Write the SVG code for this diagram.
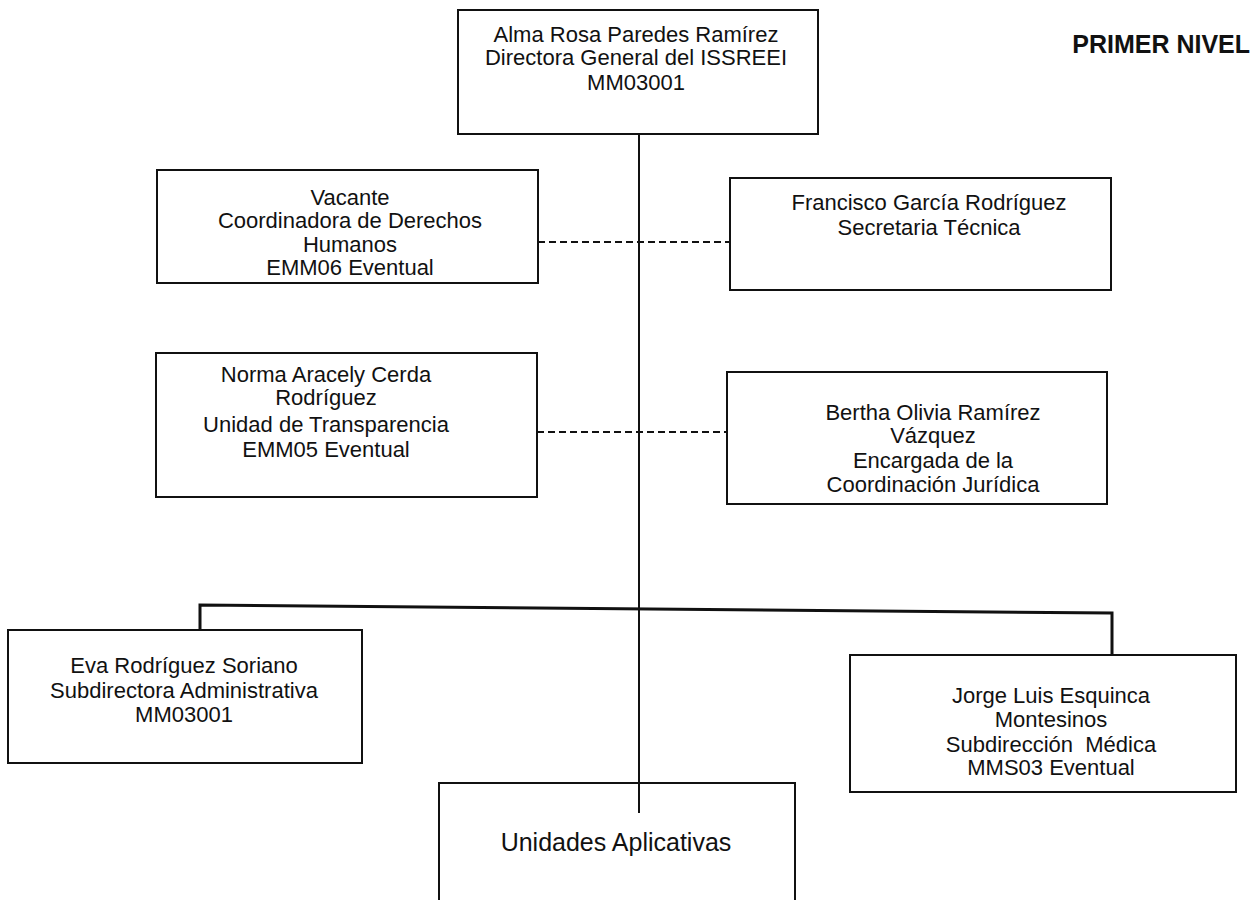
<svg xmlns="http://www.w3.org/2000/svg" width="1255" height="900" viewBox="0 0 1255 900">
<style>
  .box { fill: #ffffff; stroke: #111; stroke-width: 2; }
  .t { font-family: "Liberation Sans", Arial, sans-serif; font-size: 22px; fill: #111; text-anchor: middle; }
  .line { stroke: #111; stroke-width: 2; fill: none; }
  .dash { stroke: #111; stroke-width: 2; stroke-dasharray: 7 4; fill: none; }
</style>
<rect width="1255" height="900" fill="#ffffff"/>
<g id="director">
  <rect class="box" x="458" y="10" width="360" height="124"/>
  <text class="t" x="636" y="42">Alma Rosa Paredes Ramírez</text>
  <text class="t" x="636" y="65">Directora General del ISSREEI</text>
  <text class="t" x="636" y="90">MM03001</text>
</g>
<g id="derechos">
  <rect class="box" x="157" y="170" width="381" height="113"/>
  <text class="t" x="350" y="205">Vacante</text>
  <text class="t" x="350" y="228">Coordinadora de Derechos</text>
  <text class="t" x="350" y="252">Humanos</text>
  <text class="t" x="350" y="275">EMM06 Eventual</text>
</g>
<g id="secretaria">
  <rect class="box" x="730" y="178" width="381" height="112"/>
  <text class="t" x="929" y="210">Francisco García Rodríguez</text>
  <text class="t" x="929" y="235">Secretaria Técnica</text>
</g>
<g id="transparencia">
  <rect class="box" x="156" y="353" width="381" height="144"/>
  <text class="t" x="326" y="382">Norma Aracely Cerda</text>
  <text class="t" x="326" y="405">Rodríguez</text>
  <text class="t" x="326" y="432">Unidad de Transparencia</text>
  <text class="t" x="326" y="457">EMM05 Eventual</text>
</g>
<g id="juridica">
  <rect class="box" x="727" y="372" width="380" height="132"/>
  <text class="t" x="933" y="420">Bertha Olivia Ramírez</text>
  <text class="t" x="933" y="443">Vázquez</text>
  <text class="t" x="933" y="468">Encargada de la</text>
  <text class="t" x="933" y="492">Coordinación Jurídica</text>
</g>
<g id="administrativa">
  <rect class="box" x="8" y="630" width="354" height="133"/>
  <text class="t" x="184" y="673">Eva Rodríguez Soriano</text>
  <text class="t" x="184" y="698">Subdirectora Administrativa</text>
  <text class="t" x="184" y="722">MM03001</text>
</g>
<g id="medica">
  <rect class="box" x="850" y="655" width="386" height="137"/>
  <text class="t" x="1051" y="703">Jorge Luis Esquinca</text>
  <text class="t" x="1051" y="727">Montesinos</text>
  <text class="t" x="1051" y="752" xml:space="preserve">Subdirección  Médica</text>
  <text class="t" x="1051" y="775">MMS03 Eventual</text>
</g>
<g id="unidades">
  <rect class="box" x="439" y="783" width="356" height="125"/>
  <text class="t" x="616" y="851" style="font-size:25px">Unidades Aplicativas</text>
</g>
<g id="nivel">
  <text x="1250" y="53" style="font-family:'Liberation Sans', Arial, sans-serif; font-size:25px; font-weight:bold; fill:#111; text-anchor:end">PRIMER NIVEL</text>
</g>
<g id="connectors">
  <line class="line" x1="639" y1="135" x2="639" y2="813"/>
  <line class="dash" x1="538" y1="242" x2="730" y2="242"/>
  <line class="dash" x1="537" y1="432" x2="727" y2="432"/>
  <path class="line" style="stroke-width:3" d="M200 630 L200 605 L1112 613 L1112 655"/>
</g>
</svg>
